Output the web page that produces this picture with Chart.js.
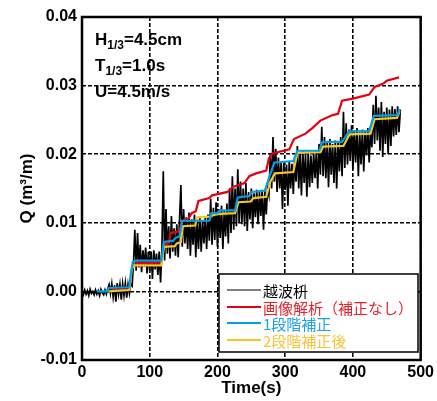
<!DOCTYPE html>
<html>
<head>
<meta charset="utf-8">
<script src="https://cdn.jsdelivr.net/npm/chart.js@4"></script>
<style>
  html, body { margin: 0; padding: 0; background: #fff; }
  #wrap { width: 437px; height: 401px; }
</style>
</head>
<body>
<div id="wrap"><canvas id="chart" width="437" height="401"></canvas></div>
<script>
// --- Data ---
const xTicks = [0, 100, 200, 300, 400, 500];
const yTicks = [-0.01, 0.00, 0.01, 0.02, 0.03, 0.04];

const seriesNames = ['越波枡', '画像解析（補正なし）', '1段階補正', '2段階補正後'];
const seriesColors = ['#000000', '#e60012', '#00a0e9', '#f8c81e'];
const labelColors = ['#000000', '#e8202a', '#1ea0e6', '#f7c53a'];

// 越波枡: sampled every 2 s from t = 0
const blackStep = 2;
const blackQ = [
  -0.0001, -0.0005, 0.0002, -0.0004, 0.0001, -0.0006, 0.0003, -0.0003, 0.0000, -0.0005,
  0.0002, -0.0004, 0.0001, -0.0006, 0.0003, -0.0002, -0.0005, 0.0002, -0.0004, 0.0004,
  0.0010, -0.0003, 0.0011, -0.0008, 0.0009, -0.0015, 0.0012, -0.0004, 0.0010, -0.0012,
  0.0011, -0.0006, 0.0012, -0.0009, 0.0010, -0.0003, 0.0011, 0.0008, 0.0040, 0.0090,
  0.0030, 0.0085, 0.0035, 0.0068, 0.0028, 0.0060, 0.0036, 0.0064, 0.0026, 0.0058,
  0.0030, 0.0058, 0.0018, 0.0060, 0.0032, 0.0055, 0.0024, 0.0058, 0.0013, 0.0062,
  0.0175, 0.0045, 0.0120, 0.0055, 0.0095, 0.0048, 0.0110, 0.0058, 0.0092, 0.0052,
  0.0098, 0.0050, 0.0105, 0.0155, 0.0065, 0.0120, 0.0070, 0.0108, 0.0062, 0.0115,
  0.0052, 0.0105, 0.0068, 0.0112, 0.0050, 0.0102, 0.0062, 0.0110, 0.0058, 0.0104,
  0.0070, 0.0108, 0.0062, 0.0112, 0.0074, 0.0135, 0.0068, 0.0122, 0.0075, 0.0130,
  0.0065, 0.0120, 0.0078, 0.0125, 0.0062, 0.0118, 0.0080, 0.0128, 0.0070, 0.0150,
  0.0085, 0.0168, 0.0090, 0.0150, 0.0095, 0.0178, 0.0100, 0.0160, 0.0098, 0.0150,
  0.0095, 0.0158, 0.0088, 0.0145, 0.0105, 0.0150, 0.0092, 0.0143, 0.0108, 0.0148,
  0.0098, 0.0145, 0.0110, 0.0148, 0.0090, 0.0146, 0.0112, 0.0150, 0.0140, 0.0200,
  0.0150, 0.0225, 0.0160, 0.0208, 0.0145, 0.0195, 0.0150, 0.0190, 0.0120, 0.0188,
  0.0148, 0.0185, 0.0125, 0.0190, 0.0150, 0.0186, 0.0142, 0.0192, 0.0160, 0.0212,
  0.0150, 0.0203, 0.0140, 0.0206, 0.0158, 0.0200, 0.0138, 0.0204, 0.0152, 0.0198,
  0.0158, 0.0202, 0.0165, 0.0205, 0.0150, 0.0215, 0.0170, 0.0240, 0.0168, 0.0225,
  0.0165, 0.0218, 0.0152, 0.0222, 0.0170, 0.0215, 0.0158, 0.0220, 0.0150, 0.0218,
  0.0175, 0.0225, 0.0168, 0.0262, 0.0180, 0.0245, 0.0185, 0.0236, 0.0190, 0.0242,
  0.0178, 0.0235, 0.0188, 0.0238, 0.0168, 0.0232, 0.0185, 0.0236, 0.0175, 0.0235,
  0.0198, 0.0238, 0.0188, 0.0236, 0.0210, 0.0272, 0.0215, 0.0285, 0.0220, 0.0268,
  0.0205, 0.0276, 0.0196, 0.0262, 0.0215, 0.0268, 0.0200, 0.0265, 0.0212, 0.0270,
  0.0226, 0.0266, 0.0228, 0.0270, 0.0232, 0.0265
];

// 画像解析（補正なし）
const redT = [38, 45, 70, 74, 80, 117, 121, 128, 131, 144, 148, 157, 162, 168, 172, 188, 192, 215, 222, 240,
  247, 257, 272, 276, 281, 306, 313, 330, 340, 352, 370, 378, 384, 400, 424, 432, 445, 450, 468];
const redQ = [0.0000, 0.0002, 0.0003, 0.0035, 0.0041, 0.0042, 0.0068, 0.0070, 0.0085, 0.0088, 0.0103, 0.0106,
  0.0114, 0.0117, 0.0132, 0.0136, 0.0140, 0.0145, 0.0152, 0.0158, 0.0168, 0.0172, 0.0176, 0.0194, 0.0201,
  0.0207, 0.0222, 0.0230, 0.0238, 0.0249, 0.0257, 0.0259, 0.0278, 0.0281, 0.0287, 0.0298, 0.0303, 0.0307, 0.0312];

// 1段階補正
const blueT = [22, 38, 39, 70, 72, 75, 80, 117, 121, 135, 138, 144, 148, 188, 191, 200, 203, 226, 230, 247,
  251, 270, 276, 284, 312, 318, 350, 355, 384, 394, 424, 431, 466, 469];
const blueQ = [0.0000, 0.0000, 0.0005, 0.0006, 0.0025, 0.0043, 0.0045, 0.0045, 0.0072, 0.0074, 0.0078, 0.0080,
  0.0103, 0.0103, 0.0114, 0.0114, 0.0118, 0.0118, 0.0137, 0.0139, 0.0145, 0.0147, 0.0165, 0.0188, 0.0190,
  0.0205, 0.0205, 0.0218, 0.0218, 0.0233, 0.0234, 0.0256, 0.0257, 0.0266];

// 2段階補正後
const yellowT = [40, 70, 73, 76, 117, 121, 137, 140, 146, 149, 167, 170, 190, 193, 203, 226, 231, 249, 253,
  272, 278, 285, 312, 318, 352, 356, 386, 395, 426, 432, 465, 469];
const yellowQ = [0.0000, 0.0002, 0.0030, 0.0038, 0.0038, 0.0065, 0.0066, 0.0070, 0.0072, 0.0095, 0.0096,
  0.0108, 0.0109, 0.0111, 0.0113, 0.0114, 0.0130, 0.0131, 0.0136, 0.0138, 0.0160, 0.0172, 0.0174, 0.0202,
  0.0203, 0.0211, 0.0212, 0.0229, 0.0230, 0.0251, 0.0253, 0.0263];

const toPoints = (ts, qs) => ts.map((t, i) => ({ x: t, y: qs[i] }));
const blackPoints = blackQ.map((q, i) => ({ x: i * blackStep, y: q }));

const FONT = "Arial, 'Liberation Sans', sans-serif";

// --- Plugins: frame, condition text, legend box ---
const framePlugin = {
  id: 'frame',
  afterDatasetsDraw(chart) {
    const { ctx, chartArea: a } = chart;
    ctx.save();
    ctx.strokeStyle = '#000';
    ctx.lineWidth = 2.5;
    ctx.strokeRect(a.left, a.top, a.right - a.left, a.bottom - a.top);
    ctx.restore();
  }
};

const conditionPlugin = {
  id: 'conditions',
  afterDatasetsDraw(chart) {
    const ctx = chart.ctx;
    const rows = [['H', '1/3', '=4.5cm', 45], ['T', '1/3', '=1.0s', 71], ['U', '', '=4.5m/s', 97]];
    ctx.save();
    ctx.fillStyle = '#000';
    ctx.textBaseline = 'alphabetic';
    rows.forEach(([main, sub, rest, y]) => {
      let x = 95;
      ctx.font = 'bold 17px ' + FONT;
      ctx.fillText(main, x, y);
      x += ctx.measureText(main).width;
      if (sub) {
        ctx.font = 'bold 12px ' + FONT;
        ctx.fillText(sub, x, y + 4);
        x += ctx.measureText(sub).width;
      }
      ctx.font = 'bold 17px ' + FONT;
      ctx.fillText(rest, x, y);
    });
    ctx.restore();
  }
};

const legendPlugin = {
  id: 'boxLegend',
  afterDraw(chart) {
    const ctx = chart.ctx;
    const box = { x: 219, y: 274, w: 199, h: 78 };
    const rowY = [290, 307, 323, 340];
    ctx.save();
    ctx.fillStyle = '#fff';
    ctx.fillRect(box.x, box.y, box.w, box.h);
    ctx.strokeStyle = '#000';
    ctx.lineWidth = 1.5;
    ctx.strokeRect(box.x, box.y, box.w, box.h);
    ctx.font = "15px 'Noto Sans CJK JP', sans-serif";
    ctx.textBaseline = 'middle';
    seriesNames.forEach((name, i) => {
      ctx.strokeStyle = seriesColors[i];
      ctx.lineWidth = i === 0 ? 1 : 2;
      ctx.beginPath();
      ctx.moveTo(227, rowY[i]);
      ctx.lineTo(261, rowY[i]);
      ctx.stroke();
      ctx.fillStyle = labelColors[i];
      ctx.fillText(name, 263, rowY[i] + 1);
    });
    ctx.restore();
  }
};

const ctx = document.getElementById('chart').getContext('2d');
new Chart(ctx, {
  type: 'line',
  data: {
    datasets: [
      { label: seriesNames[0], data: blackPoints, borderColor: seriesColors[0], borderWidth: 1.7, order: 4 },
      { label: seriesNames[1], data: toPoints(redT, redQ), borderColor: seriesColors[1], borderWidth: 2.2, order: 3 },
      { label: seriesNames[3], data: toPoints(yellowT, yellowQ), borderColor: seriesColors[3], borderWidth: 2.2, order: 2 },
      { label: seriesNames[2], data: toPoints(blueT, blueQ), borderColor: seriesColors[2], borderWidth: 2.2, order: 1 }
    ]
  },
  options: {
    responsive: false,
    animation: false,
    devicePixelRatio: 1,
    elements: { point: { radius: 0 }, line: { tension: 0 } },
    layout: { padding: { top: 17, right: 15, left: 0, bottom: 0 } },
    plugins: { legend: { display: false }, tooltip: { enabled: false } },
    scales: {
      x: {
        type: 'linear',
        min: 0, max: 500,
        afterFit: (s) => { s.height = 41; },
        afterBuildTicks: (s) => { s.ticks = xTicks.map(v => ({ value: v })); },
        ticks: { font: { family: FONT, size: 16, weight: 'bold' }, color: '#000', padding: 3, maxRotation: 0 },
        grid: { color: '#000', lineWidth: 1.6, drawTicks: false },
        border: { display: false, dash: [4, 2] },
        title: { display: true, text: 'Time(s)', color: '#000', font: { family: FONT, size: 17, weight: 'bold' }, padding: { top: 0, bottom: 2 } }
      },
      y: {
        min: -0.01, max: 0.04,
        afterFit: (s) => { s.width = 82; },
        afterBuildTicks: (s) => { s.ticks = yTicks.map(v => ({ value: v })); },
        ticks: { font: { family: FONT, size: 16, weight: 'bold' }, color: '#000', padding: 5, callback: (v) => v.toFixed(2) },
        grid: { color: '#000', lineWidth: 1.6, drawTicks: false },
        border: { display: false, dash: [4, 2] },
        title: { display: true, text: 'Q (m³/m)', color: '#000', font: { family: FONT, size: 17, weight: 'bold' }, padding: { top: 17, bottom: 0 } }
      }
    }
  },
  plugins: [framePlugin, conditionPlugin, legendPlugin]
});
</script>
</body>
</html>
